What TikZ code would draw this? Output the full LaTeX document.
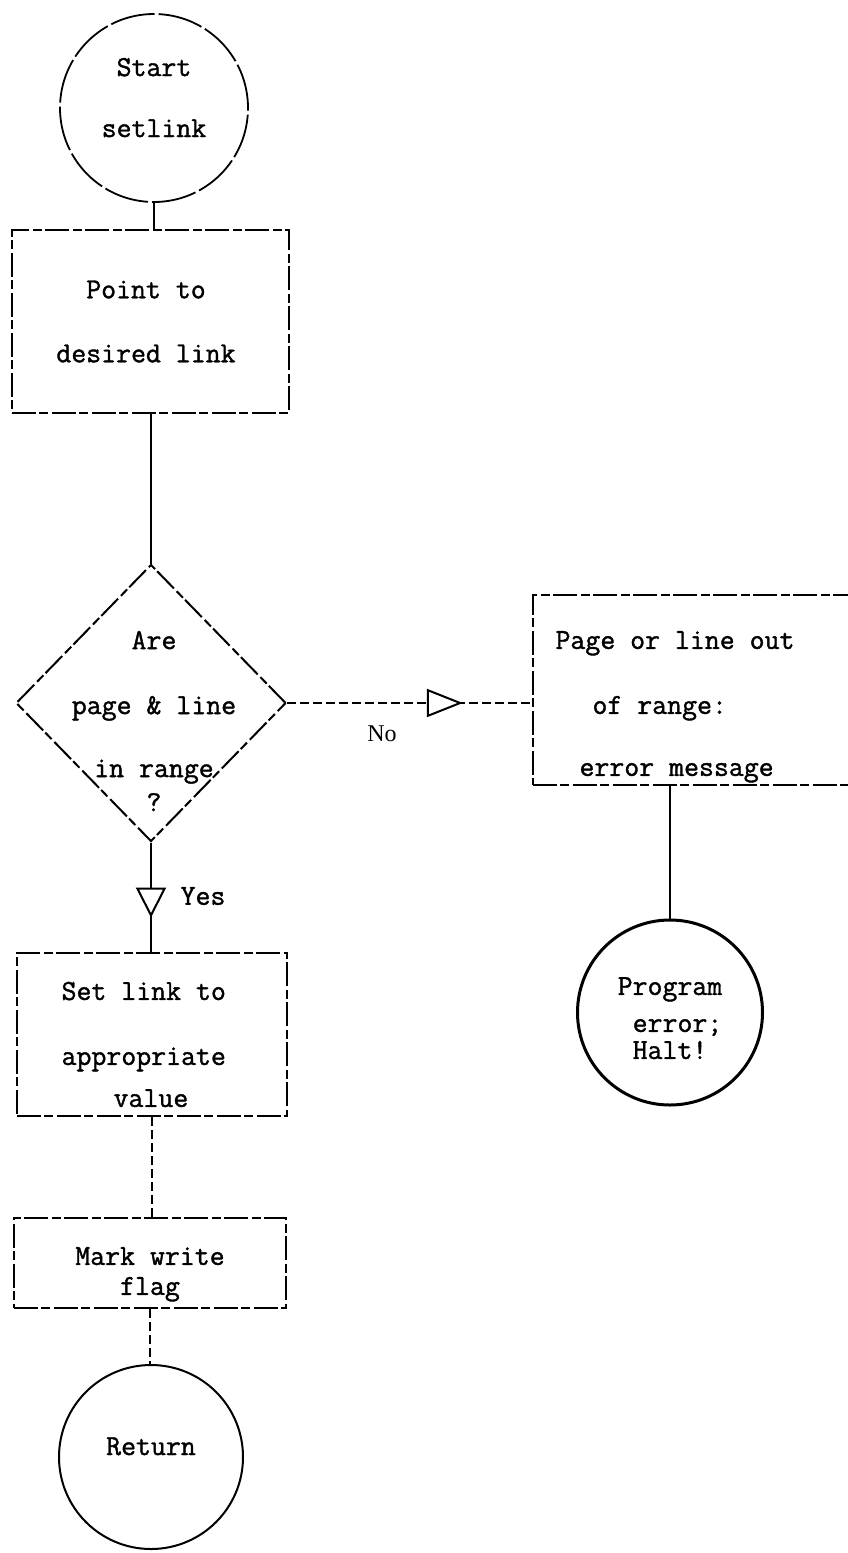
\documentclass[tikz,border=0pt]{standalone}
\usepackage{fontspec}
\newfontfamily\noserif{Liberation Serif}
\newfontfamily\twfont[FakeBold=1.3]{Latin Modern Mono}
\usetikzlibrary{shapes.geometric,arrows.meta,decorations.markings}
\begin{document}
\begin{tikzpicture}[x=1pt,y=-1pt,
  every node/.style={inner sep=0pt},
  tw/.style={font=\fontsize{29}{29}\selectfont\twfont},
  line/.style={line width=2pt},
  broken/.style={dash pattern=on 24pt off 3pt on 9pt off 4pt},
  lightbroken/.style={dash pattern=on 45pt off 4pt},
  dashline/.style={dash pattern=on 9pt off 4pt},
  proc/.style={draw, rectangle, line width=2pt, broken, tw},
  term/.style={draw, circle, tw},
  decision/.style={draw, diamond, aspect=1, line width=2pt, broken},
  midarrow/.style n args={3}{postaction={solid, decorate, decoration={markings,
      mark=at position #1 with {\arrow{Triangle[length=#2, width=#3, fill=white]}}}}}
]
\useasboundingbox (0,0) rectangle (848,1553);
\clip (0,0) rectangle (848,1553);

% terminals and boxes
\node[term, line width=1.8pt, lightbroken, minimum size=188pt, align=center] (start) at (154,108)
  {Start\\[32pt]setlink\rule[-21pt]{0pt}{21pt}};
\node[proc, minimum width=277pt, minimum height=183pt, align=center] (point) at (150.5,321.5)
  {Point to\hspace*{9pt}\\[35pt]desired link\hspace*{9pt}};
\node[decision, minimum width=270pt, minimum height=277pt] (dec) at (151,703) {};
\node[tw, align=center] (dectext) at (154,721)
  {Are\\[36pt]page \& line\\[34pt]in range\\[5pt]?};
\node[proc, minimum width=327pt, minimum height=190pt, align=left] (err) at (696.5,690)
  {\rule{0pt}{51.4pt}Page or line out\hspace*{43pt}\\[36pt]\hspace*{37pt}of range:\\[33pt]\hspace*{24pt}error message};
\node[term, line width=3pt, minimum size=185pt, align=left] (prog) at (670,1012.5)
  {\rule{0pt}{29pt}Program\\[8pt]\hspace*{15pt}error;\\[-2pt]\hspace*{15pt}Halt!};
\node[proc, minimum width=270pt, minimum height=163pt, align=left] (set) at (152,1034.5)
  {\rule{0pt}{38pt}Set link to\hspace*{16.5pt}\\[36pt]appropriate\\[13pt]\hspace*{52pt}value};
\node[proc, minimum width=272pt, minimum height=90pt, align=center] (mark) at (150,1263)
  {\rule{0pt}{40.4pt}Mark write\\[1pt]flag};
\node[term, line width=2pt, minimum size=184pt] (ret) at (151,1457)
  {Return\rule[-21.7pt]{0pt}{21.7pt}};

% labels
\node[tw] (yes) at (203,896) {Yes};
\node[font=\fontsize{24}{24}\selectfont\noserif] (no) at (382,734) {No};

% connectors
\draw[line width=2.6pt] (start.south) -- (start.south |- point.north);
\draw[line] (point.south) -- (point.south |- dec.north);
\draw[line, dashline, midarrow={0.718}{36pt}{28pt}] (dec.east) -- (dec.east -| err.west);
\draw[line, midarrow={0.685}{30pt}{30pt}] (dec.south) -- (dec.south |- set.north);
\draw[line, dashline] (set.south) -- (set.south |- mark.north);
\draw[line, dashline] (mark.south) -- (mark.south |- ret.north);
\draw[line width=2.6pt] (prog.north |- err.south) -- (prog.north);
\end{tikzpicture}
\end{document}
